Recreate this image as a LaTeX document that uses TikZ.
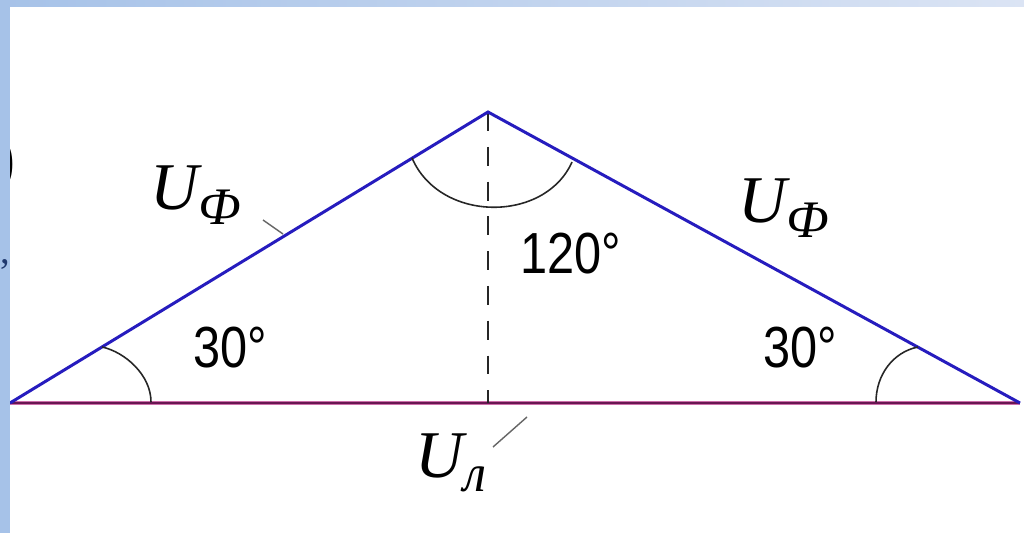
\documentclass[tikz,border=0pt]{standalone}
\usepackage{fontspec}
\setmainfont{Liberation Serif}
\newfontfamily\degfont{Liberation Sans}
\usetikzlibrary{positioning}

\definecolor{sideblue}{RGB}{38,28,190}
\definecolor{basedark}{RGB}{105,22,82}
\definecolor{basepink}{RGB}{205,110,170}
\definecolor{stripblue}{RGB}{166,194,232}
\definecolor{stripright}{RGB}{219,228,244}
\definecolor{commablue}{RGB}{31,56,110}

% voltage label: italic U with a lowered subscript letter
\newcommand{\ulabel}[1]{{\fontsize{38}{38}\selectfont\itshape U}{\fontsize{30}{30}\selectfont\itshape\raisebox{-8.5pt}{#1}}}
% narrow angle text
\newcommand{\angtext}[1]{\scalebox{0.84}[1]{#1}}

\begin{document}
\begin{tikzpicture}[
    x=0.02cm, y=-0.02cm,
    side/.style={draw=sideblue, line width=1.7pt},
    basehalo/.style={draw=basepink, line width=2.4pt},
    basecore/.style={draw=basedark, line width=1.1pt},
    anglemark/.style={draw=black!85, line width=0.9pt},
    heightline/.style={draw=black!85, line width=1.1pt, dash pattern=on 10.8pt off 9pt},
    leader/.style={draw=black!60, line width=0.8pt},
    deg/.style={inner sep=0pt, font=\degfont\fontsize{33}{33}\selectfont},
    vlabel/.style={inner sep=0pt, anchor=base west}
]
    \useasboundingbox (0,0) rectangle (1024,533);
    \fill[white] (0,0) rectangle (1024,533);

    % triangle of voltages
    \coordinate (A) at (10,403);
    \coordinate (B) at (1020,403);
    \coordinate (C) at (488,112);
    \coordinate (H) at (488,403);
    \draw[basehalo] (A) -- (B);
    \draw[basecore] (A) -- (B);
    \draw[heightline] (C) -- (H);
    \draw[side] (A) -- (C) -- (B);

    % angle marks
    \draw[anglemark] (412,158) .. controls (440,223) and (545,223) .. (572,162);
    \draw[anglemark] (102,347) .. controls (125,352) and (151,375) .. (151,402);
    \draw[anglemark] (918,347) .. controls (893,352) and (876,375) .. (876,402);

    % labels
    \node[vlabel] (uleft) at (150,210) {\ulabel{Ф}};
    \node[vlabel] (uright) at (738,223) {\ulabel{Ф}};
    \node[vlabel] (ubase) at (415,477) {\ulabel{л}};
    \node[deg] (aleft) at (230,348) {\angtext{30°}};
    \node[deg] (aright) at (800,348) {\angtext{30°}};
    \node[deg] (atop) at (571,254) {\angtext{120°}};

    % leaders
    \coordinate (tl1) at (263,220);
    \coordinate (tl2) at (283,234);
    \coordinate (tb1) at (527,417);
    \coordinate (tb2) at (493,447);
    \draw[leader] (tl1) -- (tl2);
    \draw[leader] (tb1) -- (tb2);

    % cut-off text at the edge
    \node[anchor=east, inner sep=0pt, font=\fontsize{40}{40}\selectfont] (paren) at (16,165) {)};
    \fill[stripblue] (0,0) rectangle (10,533);
    \shade[left color=stripblue, right color=stripright] (0,0) rectangle (1024,7);
    \node[inner sep=0pt, text=commablue, font=\fontsize{22}{22}\selectfont] (comma) at (5,264) {,};
\end{tikzpicture}
\end{document}
